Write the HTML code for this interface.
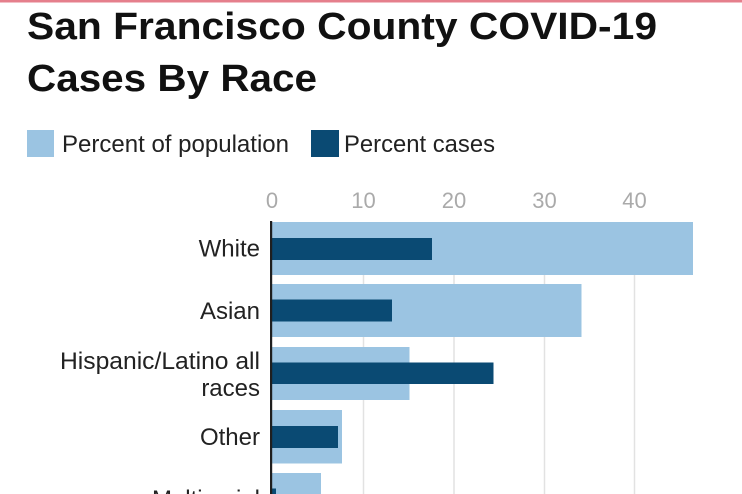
<!DOCTYPE html>
<html>
<head>
<meta charset="utf-8">
<style>
html,body{margin:0;padding:0;background:#fff;}
body{width:742px;height:494px;overflow:hidden;}
svg{display:block;overflow:hidden;}
text{font-family:"Liberation Sans",Arial,sans-serif;}
</style>
</head>
<body>
<svg width="742" height="494" viewBox="0 0 742 494" xmlns="http://www.w3.org/2000/svg">
  <defs>
    <clipPath id="frame"><rect x="0" y="0" width="742" height="494"/></clipPath>
  </defs>
  <rect x="0" y="0" width="742" height="494" fill="#ffffff"/>
  <rect x="0" y="0" width="742" height="2.5" fill="#e57f8c"/>

  <!-- Title -->
  <text x="27" y="39" font-size="38" font-weight="bold" fill="#111" textLength="630" lengthAdjust="spacingAndGlyphs">San Francisco County COVID-19</text>
  <text x="27" y="91" font-size="38" font-weight="bold" fill="#111" textLength="290" lengthAdjust="spacingAndGlyphs">Cases By Race</text>

  <!-- Legend -->
  <rect x="27" y="130" width="27" height="27" fill="#9bc4e2"/>
  <text x="62" y="152" font-size="24" fill="#222" textLength="227" lengthAdjust="spacingAndGlyphs">Percent of population</text>
  <rect x="311" y="130" width="28" height="27" fill="#0a4a73"/>
  <text x="344" y="152" font-size="24" fill="#222" textLength="151" lengthAdjust="spacingAndGlyphs">Percent cases</text>

  <!-- Tick labels -->
  <g font-size="22" fill="#aaaaaa" text-anchor="middle">
    <text x="272" y="208">0</text>
    <text x="363.5" y="208">10</text>
    <text x="454" y="208">20</text>
    <text x="544.5" y="208">30</text>
    <text x="634.5" y="208">40</text>
  </g>

  <!-- Gridlines -->
  <g stroke="#e2e2e2" stroke-width="1.5">
    <line x1="363.5" y1="222" x2="363.5" y2="494"/>
    <line x1="454" y1="222" x2="454" y2="494"/>
    <line x1="544.5" y1="222" x2="544.5" y2="494"/>
    <line x1="634.5" y1="222" x2="634.5" y2="494"/>
  </g>

  <!-- Population bars -->
  <g fill="#9bc4e2">
    <rect x="272" y="222" width="421" height="53"/>
    <rect x="272" y="284" width="309.5" height="53"/>
    <rect x="272" y="347" width="137.5" height="53"/>
    <rect x="272" y="410" width="70" height="53.5"/>
    <rect x="272" y="473" width="49" height="21"/>
  </g>
  <!-- Cases bars -->
  <g fill="#0a4a73">
    <rect x="272" y="238" width="160" height="22"/>
    <rect x="272" y="299.5" width="120" height="22"/>
    <rect x="272" y="362.5" width="221.5" height="21.5"/>
    <rect x="272" y="426" width="66" height="22"/>
    <rect x="272" y="488.5" width="4" height="5.5"/>
  </g>

  <!-- Axis line -->
  <rect x="270" y="221" width="2.2" height="273" fill="#1f1f1f"/>

  <!-- Category labels -->
  <g font-size="24" fill="#222" text-anchor="end" clip-path="url(#frame)">
    <text x="260" y="256.5">White</text>
    <text x="260" y="319">Asian</text>
    <text x="260" y="369" textLength="200" lengthAdjust="spacingAndGlyphs">Hispanic/Latino all</text>
    <text x="260" y="396">races</text>
    <text x="260" y="445">Other</text>
    <text x="260" y="507">Multiracial</text>
  </g>
</svg>
</body>
</html>
